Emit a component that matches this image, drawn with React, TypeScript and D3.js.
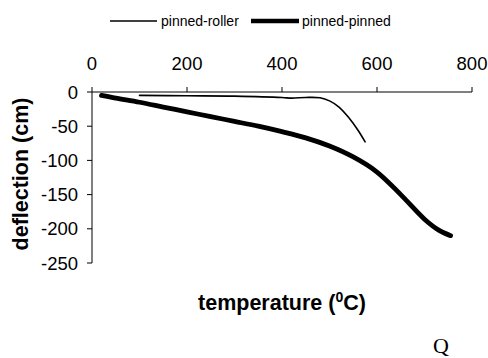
import React from "react";
import * as d3 from "d3";

const xTicks = [0, 200, 400, 600, 800];
const yTicks = [0, -50, -100, -150, -200, -250];

const rollerTemp = [100, 200, 300, 400, 420, 450, 480, 500, 520, 540, 560, 575];
const rollerDefl = [-5, -5.5, -6, -8, -9, -8, -8.5, -13, -22, -37, -56, -73];

const pinnedTemp = [20, 50, 100, 150, 200, 250, 300, 350, 400, 450, 500, 550, 600, 650, 700, 730, 755];
const pinnedDefl = [-5, -9, -15, -22, -29, -36, -43, -50, -58, -67, -79, -95, -117, -150, -186, -202, -210];

export default function App() {
  const x = d3.scaleLinear().domain([0, 800]).range([92, 472]);
  const y = d3.scaleLinear().domain([0, -250]).range([92, 263]);
  const line = d3
    .line<[number, number]>()
    .x((d) => x(d[0]))
    .y((d) => y(d[1]))
    .curve(d3.curveCatmullRom.alpha(0.5));
  const roller: [number, number][] = rollerTemp.map((t, i) => [t, rollerDefl[i]]);
  const pinned: [number, number][] = pinnedTemp.map((t, i) => [t, pinnedDefl[i]]);
  const font = "Arial, 'Liberation Sans', sans-serif";
  return (
    <svg
      width={488}
      height={358}
      style={{ position: "absolute", left: 0, top: 0, background: "#fff" }}
      fontFamily={font}
    >
      {/* legend */}
      <line x1={110} x2={157} y1={21} y2={21} stroke="#000" strokeWidth={1.5} />
      <text x={161} y={26} fontSize={14}>pinned-roller</text>
      <line x1={251} x2={299} y1={21} y2={21} stroke="#000" strokeWidth={4.5} />
      <text x={302} y={26} fontSize={14}>pinned-pinned</text>

      {/* x axis */}
      <line x1={x(0)} x2={x(800)} y1={y(0)} y2={y(0)} stroke="#000" strokeWidth={1} />
      {xTicks.map((t) => (
        <g key={t}>
          <line x1={x(t)} x2={x(t)} y1={y(0) - 5} y2={y(0)} stroke="#000" strokeWidth={1} />
          <text x={x(t)} y={70} fontSize={18.5} textAnchor="middle">{t}</text>
        </g>
      ))}

      {/* y axis */}
      <line x1={x(0)} x2={x(0)} y1={y(0)} y2={y(-250)} stroke="#000" strokeWidth={1} />
      {yTicks.map((t) => (
        <g key={t}>
          <line x1={x(0) - 5} x2={x(0)} y1={y(t)} y2={y(t)} stroke="#000" strokeWidth={1} />
          <text x={78} y={y(t) + 6.5} fontSize={18.5} textAnchor="end">{t}</text>
        </g>
      ))}

      {/* series */}
      <path d={line(roller) || ""} fill="none" stroke="#000" strokeWidth={1.6} strokeLinecap="round" />
      <path d={line(pinned) || ""} fill="none" stroke="#000" strokeWidth={4.8} strokeLinecap="round" />

      {/* axis titles */}
      <text
        transform="translate(28,174) rotate(-90)"
        fontSize={21.5}
        fontWeight="bold"
        textAnchor="middle"
      >
        deflection (cm)
      </text>
      <text x={282} y={310} fontSize={21.5} fontWeight="bold" textAnchor="middle">
        temperature (<tspan dy={-8} fontSize={14}>0</tspan>
        <tspan dy={8}>C)</tspan>
      </text>

      <text x={433} y={353} fontSize={22} fontFamily="'Liberation Serif', 'DejaVu Serif', serif">Q</text>
    </svg>
  );
}
